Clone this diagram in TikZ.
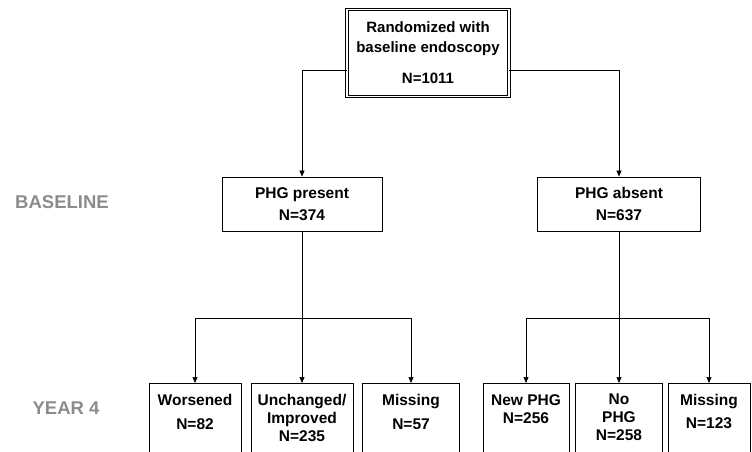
\documentclass[tikz,border=0pt]{standalone}
\usepackage{fontspec}
\setmainfont{Liberation Sans}
\usetikzlibrary{arrows.meta}
\definecolor{stagegray}{RGB}{140,140,140}

\begin{document}
\begin{tikzpicture}[x=1pt,y=-1pt,
	box/.style={draw, line width=0.8pt, align=center, inner sep=0pt,
		font=\bfseries\fontsize{15.5}{20}\selectfont},
	leaf/.style={box, anchor=north, minimum height=90pt},
	leaftext/.style={anchor=north, align=center, inner sep=0pt, yshift=-11pt,
		font=\bfseries\fontsize{15.5}{18}\selectfont},
	stage/.style={text=stagegray, font=\bfseries\fontsize{18.5}{22}\selectfont},
	arr/.style={-{Triangle[length=6pt,width=5pt]}, line width=0.7pt}]
			
			\useasboundingbox (0,0) rectangle (752,452);
			\clip (0,0) rectangle (752,452);
			
			% stages
			\node[stage] (baseline) at (62,202) {BASELINE};
			\node[stage] (year) at (66,408) {YEAR 4};
			
			% randomized and baseline
			\node[box, double, double distance=1.6pt, minimum width=162pt, minimum height=87pt,
				font=\bfseries\fontsize{15}{20}\selectfont] (rand) at (428,53)
				{Randomized with\\baseline endoscopy\\[11pt]N=1011};
			\node[box, minimum width=160pt, minimum height=54pt] (present) at (302,204) {PHG present\\[2pt]N=374};
			\node[box, minimum width=163pt, minimum height=54pt] (absent) at (619,204) {PHG absent\\[2pt]N=637};
			
			\draw[arr] ([yshift=-17pt]rand.west) -| (present.north);
			\draw[arr] ([yshift=-17pt]rand.east) -| (absent.north);
			
			% year 4
			\node[leaf, minimum width=92pt, label={[leaftext]north:{Worsened\\[6pt]N=82}}] (worse) at (195,383) {};
			\node[leaf, minimum width=102pt, label={[leaftext]north:{Unchanged/\\Improved\\N=235}}] (unch) at (302,383) {};
			\node[leaf, minimum width=97pt, label={[leaftext]north:{Missing\\[6pt]N=57}}] (pmiss) at (411,383) {};
			\node[leaf, minimum width=86pt, label={[leaftext]north:{New PHG\\N=256}}] (newphg) at (526,383) {};
			\node[leaf, minimum width=87pt, label={[leaftext]north:{No\\PHG\\N=258}}] (nophg) at (619,383) {};
			\node[leaf, minimum width=82pt, label={[leaftext]north:{Missing\\[5pt]N=123}}] (amiss) at (709,383) {};
			
			\coordinate (psplit) at (302,318);
			\coordinate (asplit) at (619,318);
			\draw[line width=0.7pt] (present.south) -- (psplit);
			\draw[arr] (psplit) -| (worse.north);
			\draw[arr] (psplit) -- (unch.north);
			\draw[arr] (psplit) -| (pmiss.north);
			\draw[line width=0.7pt] (absent.south) -- (asplit);
			\draw[arr] (asplit) -| (newphg.north);
			\draw[arr] (asplit) -- (nophg.north);
			\draw[arr] (asplit) -| (amiss.north);
			%\draw[dashed] (psplit) -- (asplit);
			
\end{tikzpicture}
\end{document}
